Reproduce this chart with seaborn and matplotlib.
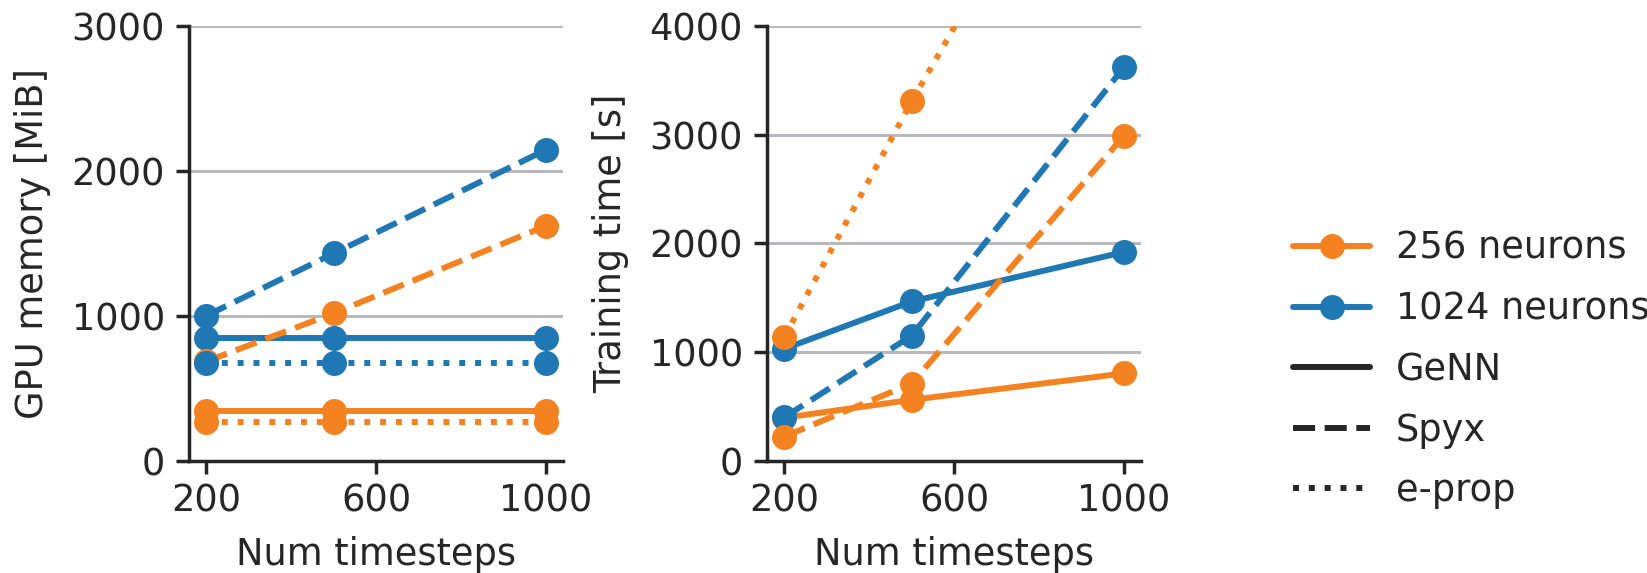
import numpy as np
import pandas as pd
import matplotlib
matplotlib.use("Agg")
import matplotlib.pyplot as plt
from matplotlib.lines import Line2D
import seaborn as sns

# data
TIMESTEPS = [200, 500, 1000]
FRAMEWORKS = ["GeNN", "Spyx", "e-prop"]
NEURONS = ["1024", "256"]

# GPU memory [MiB]
MEM_GENN_256 = [345, 345, 345]
MEM_GENN_1024 = [846, 846, 846]
MEM_SPYX_256 = [685, 1017, 1620]
MEM_SPYX_1024 = [1000, 1430, 2145]
MEM_EPROP_256 = [270, 270, 270]
MEM_EPROP_1024 = [677, 677, 677]

# Training time [s]
TIME_GENN_256 = [395, 560, 803]
TIME_GENN_1024 = [1030, 1465, 1920]
TIME_SPYX_256 = [222, 709, 2990]
TIME_SPYX_1024 = [400, 1150, 3620]
TIME_EPROP_256 = [1140, 3307, 6700]
TIME_EPROP_1024 = None  # not shown

COLORS = {"256": "#f58220", "1024": "#1f77b4"}
STYLES = {"GeNN": "-", "Spyx": (0, (3.7, 1.6)), "e-prop": (0, (1, 1.65))}

series = {
    ("memory", "GeNN", "256"): MEM_GENN_256,
    ("memory", "GeNN", "1024"): MEM_GENN_1024,
    ("memory", "Spyx", "256"): MEM_SPYX_256,
    ("memory", "Spyx", "1024"): MEM_SPYX_1024,
    ("memory", "e-prop", "256"): MEM_EPROP_256,
    ("memory", "e-prop", "1024"): MEM_EPROP_1024,
    ("time", "GeNN", "256"): TIME_GENN_256,
    ("time", "GeNN", "1024"): TIME_GENN_1024,
    ("time", "Spyx", "256"): TIME_SPYX_256,
    ("time", "Spyx", "1024"): TIME_SPYX_1024,
    ("time", "e-prop", "256"): TIME_EPROP_256,
    ("time", "e-prop", "1024"): TIME_EPROP_1024,
}

rows = []
for (metric, fw, n), vals in series.items():
    if vals is None:
        continue
    for t, v in zip(TIMESTEPS, vals):
        rows.append({"metric": metric, "framework": fw, "neurons": n,
                     "timesteps": t, "value": v})
df = pd.DataFrame(rows)

FS = 26.5
LW = 4.3
MS = 18

sns.set_theme(style="ticks", rc={
    "font.size": FS, "axes.labelsize": FS, "xtick.labelsize": FS,
    "ytick.labelsize": FS, "legend.fontsize": FS,
    "axes.linewidth": 2.5, "xtick.major.width": 2.5, "ytick.major.width": 2.5,
    "xtick.major.size": 9.5, "ytick.major.size": 9.5,
    "xtick.major.pad": 6, "ytick.major.pad": 8,
})
plt.rcParams["font.family"] = ["DejaVu Sans"]

fig = plt.figure(figsize=(16.47, 5.73), dpi=100)
ax_mem = fig.add_axes([0.1149, 0.196, 0.2268, 0.7586])
ax_time = fig.add_axes([0.4659, 0.196, 0.2268, 0.7586])

for ax, metric, yticks, ylabel in [
    (ax_mem, "memory", [0, 1000, 2000, 3000], "GPU memory [MiB]"),
    (ax_time, "time", [0, 1000, 2000, 3000, 4000], "Training time [s]"),
]:
    ax.set_axisbelow(True)
    ax.yaxis.grid(True, color="#b9b9bd", lw=2.2)
    for fw in FRAMEWORKS:
        for n in NEURONS:
            sub = df[(df.metric == metric) & (df.framework == fw) & (df.neurons == n)]
            if sub.empty:
                continue
            sns.lineplot(data=sub, x="timesteps", y="value", ax=ax,
                         color=COLORS[n], linestyle=STYLES[fw], lw=LW,
                         marker="o", markersize=MS, markeredgewidth=0,
                         legend=False)
    ax.set_ylim(yticks[0], yticks[-1])
    ax.set_yticks(yticks)
    ax.set_xticks([200, 600, 1000])
    ax.set_xlabel("Num timesteps", labelpad=12)
    ax.set_ylabel(ylabel, labelpad=15)
    sns.despine(ax=ax)

handles = [
    Line2D([], [], color=COLORS["256"], lw=LW, marker="o", markersize=MS, mew=0),
    Line2D([], [], color=COLORS["1024"], lw=LW, marker="o", markersize=MS, mew=0),
    Line2D([], [], color=".15", lw=LW, linestyle=STYLES["GeNN"]),
    Line2D([], [], color=".15", lw=LW, linestyle=STYLES["Spyx"]),
    Line2D([], [], color=".15", lw=LW, linestyle=STYLES["e-prop"]),
]
labels = ["256 neurons", "1024 neurons", "GeNN", "Spyx", "e-prop"]
fig.legend(handles, labels, loc="upper left",
           bbox_to_anchor=(1293 / 1647, 1 - 230 / 573),
           frameon=False, borderaxespad=0, borderpad=0,
           handlelength=2.1, handletextpad=0.7, labelspacing=0.64)

fig.savefig("out.png", dpi=100)
